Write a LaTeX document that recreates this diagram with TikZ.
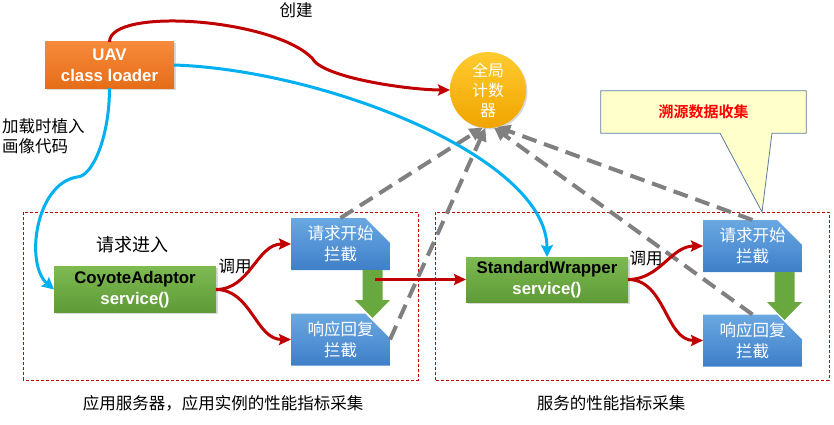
\documentclass[tikz,border=0pt]{standalone}
\usepackage{fontspec}
\setmainfont{Liberation Sans}
\newfontfamily\cjk[BoldFont={Noto Sans CJK SC Bold}]{Noto Sans CJK SC}
\usetikzlibrary{arrows.meta, backgrounds, positioning, shadows}

\definecolor{redln}{HTML}{C00000}
\definecolor{blueln}{HTML}{00B0F0}
\definecolor{grayln}{HTML}{808080}
\definecolor{orgT}{HTML}{F68A3A}
\definecolor{orgB}{HTML}{E66D18}
\definecolor{grnT}{HTML}{7DBA52}
\definecolor{grnB}{HTML}{5E9A36}
\definecolor{grnA}{HTML}{68A83F}
\definecolor{bluT}{HTML}{6AA8E2}
\definecolor{bluB}{HTML}{3F7FC8}
\definecolor{yelT}{HTML}{FFCB2E}
\definecolor{yelB}{HTML}{F0A400}
\definecolor{noteF}{HTML}{FFFFCC}
\definecolor{noteD}{HTML}{5A7BA0}

\begin{document}
\begin{tikzpicture}[x=1pt, y=1pt,
   font=\fontsize{16.5}{21}\selectfont,
  shdw/.style = {drop shadow={shadow xshift=1.5pt, shadow yshift=-1.5pt,
                 opacity=.3}},
loader/.style = {rectangle, minimum width=129pt, minimum height=46pt,
                 inner sep=0pt, outer sep=0pt, align=center,
                 top color=orgT, bottom color=orgB, text=white,
                 font=\fontsize{16.8}{21}\selectfont\bfseries, shdw},
   cnt/.style = {circle, minimum size=76pt, inner sep=0pt, outer sep=0pt,
                 align=center, top color=yelT, bottom color=yelB, text=white,
                 font=\cjk\fontsize{16}{20}\selectfont, shdw},
   svc/.style = {rectangle, minimum width=162pt, minimum height=46pt,
                 inner sep=0pt, outer sep=0pt, align=center,
                 top color=grnT, bottom color=grnB, text=white,
                 font=\fontsize{16.8}{21}\selectfont\bfseries, shdw},
  hook/.style = {rectangle, minimum width=99pt, minimum height=52pt,
                 inner sep=0pt, outer sep=0pt, align=center, text=white,
                 font=\cjk\fontsize{16.5}{21}\selectfont,
                 path picture={\shade[top color=bluT, bottom color=bluB]
                   (path picture bounding box.south west)
                   -- (path picture bounding box.north west)
                   -- ([xshift=-25pt]path picture bounding box.north east)
                   -- ([yshift=-25pt]path picture bounding box.north east)
                   -- (path picture bounding box.south east) -- cycle;}},
  grnarr/.style = {fill=grnA},
   lbl/.style = {inner sep=0pt, font=\cjk\fontsize{16.5}{20}\selectfont},
framebox/.style = {draw=redln, line width=0.8pt, dash pattern=on 3pt off 2pt},
redarr/.style = {draw=redln, line width=3pt,
                 -{Stealth[length=12pt, width=11pt, inset=2pt]}},
bluearr/.style = {draw=blueln, line width=3pt,
                 -{Stealth[length=12pt, width=12pt, inset=2pt]}},
grayarr/.style = {draw=grayln, line width=4pt, dash pattern=on 15pt off 8pt,
                 -{Triangle[length=13pt, width=13pt]}}
                        ]
\useasboundingbox (0,0) rectangle (834,424);
    % blocks
\node (uav)    [loader] at (109.5,359) {UAV\\class loader};
\node (global) [cnt]    at (488,334)   {全局\\计数\\器};
\node (coyote) [svc]    at (135,134.5) {{\color{black}CoyoteAdaptor}\\service()};
\node (req1)   [hook]   at (340.5,180) {请求开始\\拦截};
\node (resp1)  [hook]   at (340.5,84.5) {响应回复\\拦截};
\node (wrap)   [svc, minimum height=45pt] at (547,144.5)
                        {{\color{black}StandardWrapper}\\service()};
\node (req2)   [hook]   at (752.5,178) {请求开始\\拦截};
\node (resp2)  [hook]   at (752.5,83.5) {响应回复\\拦截};
    % block arrows between the hooks
\coordinate (dn1) at (372.5,154);
\coordinate (dn2) at (784.5,152);
\fill[grnarr] (dn1) ++(-10,0) -- ++(0,-30) -- ++(-7.5,0) -- ++(17.5,-18)
              -- ++(17.5,18) -- ++(-7.5,0) -- ++(0,30) -- cycle;
\fill[grnarr] (dn2) ++(-10,0) -- ++(0,-30) -- ++(-7.5,0) -- ++(17.5,-18)
              -- ++(17.5,18) -- ++(-7.5,0) -- ++(0,30) -- cycle;
    % callout
\node (note) [minimum width=205pt, minimum height=42pt, inner sep=0pt,
              text=red, font=\cjk\fontsize{15}{18}\selectfont\bfseries]
              at (703.5,312) {溯源数据收集};
\coordinate (notetip) at (762,212);
    % texts
\node (create) [lbl] at (296,414) {创建};
\node (inject) [lbl, anchor=west, align=left] at (2,288) {加载时植入\\画像代码};
\node (enter)  [lbl, font=\cjk\fontsize{18}{20}\selectfont] at (132,179) {请求进入};
\node (call1)  [lbl] at (235,158) {调用};
\node (call2)  [lbl] at (646,166) {调用};
\node (cap1)   [lbl] at (223,21)  {应用服务器，应用实例的性能指标采集};
\node (cap2)   [lbl] at (611,21)  {服务的性能指标采集};
\coordinate (kink1) at (312,366);
\coordinate (kink2) at (77,247);
    % frames and callout behind
\begin{scope}[on background layer]
\draw[framebox] (23,44) rectangle (418,212);
\draw[framebox] (435,44) rectangle (829,212);
\draw[fill=noteF, draw=noteD, line width=0.8pt]
    (note.south west) -- (note.north west) -- (note.north east)
    -- (note.south east) -- ([xshift=68.5pt]note.south) -- (notetip)
    -- ([xshift=16.5pt]note.south) -- cycle;
\end{scope}
    % arrows
\draw[grayarr] (req1.north)  -- (global.262);
\draw[grayarr] (resp1.east)  -- (global.266);
\draw[grayarr] (resp2.north) -- (global.279);
\draw[grayarr] (req2.north)  -- (global.284);
\draw[bluearr] (uav.east) .. controls +(150,-5) and +(0,100) .. (wrap.north);
\draw[bluearr] (uav.south) .. controls +(0,-50) and +(15,0) .. (kink2)
                        .. controls +(-42,-7) and +(-29,25) .. (coyote.west);
\draw[redarr]  (uav.north) .. controls +(0,35) and +(-40,40) .. (kink1)
                        .. controls +(10,-20) and +(-40,0) .. (global.west);
\draw[redarr]  (coyote.east) to[out=0, in=180] (req1.west);
\draw[redarr]  (coyote.east) to[out=0, in=180] (resp1.west);
\draw[redarr]  ([xshift=2.5pt]dn1 |- wrap.west) -- (wrap.west);
\draw[redarr]  (wrap.east) to[out=0, in=180] (req2.west);
\draw[redarr]  (wrap.east) to[out=0, in=180] (resp2.west);
\end{tikzpicture}
\end{document}
